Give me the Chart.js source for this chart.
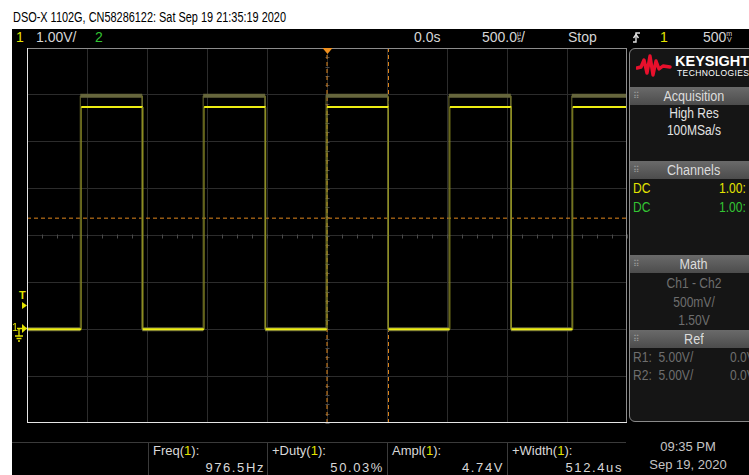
<!DOCTYPE html>
<html>
<head>
<meta charset="utf-8">
<script src="https://cdn.jsdelivr.net/npm/chart.js@4.4.1/dist/chart.umd.min.js"></script>
<style>
  body { margin:0; width:749px; height:475px; overflow:hidden; position:relative; background:#fff;
         font-family:'Liberation Sans',Arial,sans-serif; }
  .t { position:absolute; white-space:nowrap; line-height:1; }
  .nar { transform:scaleX(0.86); transform-origin:left top; }
  #scope { position:absolute; left:12px; top:29px; width:737px; height:446px; background:#000; }
  #grid { position:absolute; left:26px; top:47px; }
  .bar { color:#d6d6d6; font-size:14px; }
  .y { color:#e4e400; }
  .g { color:#33c433; }
  .stack { display:inline-block; font-size:7px; line-height:6px; vertical-align:top; margin-top:1px; text-align:center; }
  #panel { position:absolute; left:629px; top:48px; width:128px; height:372px; border:1px solid #8a8a8a;
           border-radius:6px; background:#151515; overflow:hidden; }
  .hdr { position:absolute; left:0; width:128px; height:18px; background:linear-gradient(#6a6a6a,#4c4c4c);
         color:#dcdcdc; font-size:14px; line-height:18px; text-align:center; }
  .hdr .lbl { display:inline-block; transform:scaleX(0.9); }
  .hdr .dots { position:absolute; left:3px; top:0; font-size:9px; color:#9a9a9a; }
  .pl { position:absolute; left:0; width:128px; text-align:center; font-size:14px; line-height:1; color:#e2e2e2;
        transform:scaleX(0.86); transform-origin:center top; white-space:nowrap; }
  .pt { font-size:14px; }
  .dim { color:#6e6e6e; }
  .meas { color:#d8d8d8; font-size:13px; }
  .val { color:#d8d8d8; font-size:13px; letter-spacing:1.6px; text-align:right; }
  .sep { position:absolute; background:#3a3a3a; }
</style>
</head>
<body>
<div class="t" style="left:13px;top:10px;font-size:14px;color:#000;transform:scaleX(0.78);transform-origin:left top;">DSO-X 1102G, CN58286122: Sat Sep 19 21:35:19 2020</div>
<div id="scope"></div>

<!-- status line -->
<div class="t bar y" style="left:16px;top:30px;">1</div>
<div class="t bar" style="left:36px;top:30px;">1.00V/</div>
<div class="t bar g" style="left:95px;top:30px;">2</div>
<div class="t bar" style="left:414px;top:30px;">0.0s</div>
<div class="t bar" style="left:482px;top:30px;">500.0<span class="stack">µ<br>s</span>/</div>
<div class="t bar" style="left:568px;top:30px;">Stop</div>
<svg style="position:absolute;left:632px;top:31px;" width="10" height="13">
  <path d="M1 11 H4 V2 H8" stroke="#e0e0e0" stroke-width="1.4" fill="none"/>
  <path d="M1.5 7 L4 3.5 L6.5 7" stroke="#e0e0e0" stroke-width="1.4" fill="none"/>
</svg>
<div class="t bar y" style="left:660px;top:30px;">1</div>
<div class="t bar" style="left:703px;top:30px;">500<span class="stack">m<br>V</span></div>

<canvas id="grid" width="602" height="377"></canvas>

<!-- channel / trigger markers left of the graticule -->
<div class="t y" style="left:19px;top:290px;font-size:11px;font-weight:bold;">T</div>
<svg style="position:absolute;left:12px;top:300px;" width="16" height="44">
  <path d="M10 2 L15 5.5 L10 9 Z" fill="#e4e400"/>
  <path d="M10 24 L15 28.5 L10 33 Z" fill="#e4e400"/>
  <path d="M5 28.5 H15" stroke="#e4e400" stroke-width="1.5"/>
  <path d="M7 29 V36 M3 36 H11 M4.5 38.5 H9.5 M6 41 H8" stroke="#e4e400" stroke-width="1.3"/>
</svg>
<div class="t y" style="left:12px;top:322px;font-size:11px;">1</div>

<!-- side panel -->
<div id="panel">
  <svg style="position:absolute;left:6px;top:5px;" width="36" height="24">
    <polyline points="1,14 5,13 8,6 11,19 14,2 17,21 20,7 23,15 27,12 34,13" stroke="#e8102c" stroke-width="3.4"
              fill="none" stroke-linejoin="round" stroke-linecap="round"/>
  </svg>
  <div class="t" style="left:45px;top:5px;font-weight:bold;font-size:14.5px;color:#fff;">KEYSIGHT</div>
  <div class="t" style="left:47px;top:20px;font-size:8.5px;color:#fff;letter-spacing:0.4px;">TECHNOLOGIES</div>

  <div class="hdr" style="top:38px;"><span class="dots">⠿</span><span class="lbl">Acquisition</span></div>
  <div class="pl" style="top:57px;">High Res</div>
  <div class="pl" style="top:74px;">100MSa/s</div>

  <div class="hdr" style="top:112px;"><span class="dots">⠿</span><span class="lbl">Channels</span></div>
  <div class="t pt nar y" style="left:3px;top:132px;">DC</div>
  <div class="t pt nar y" style="left:89px;top:132px;">1.00:</div>
  <div class="t pt nar g" style="left:3px;top:151px;">DC</div>
  <div class="t pt nar g" style="left:89px;top:151px;">1.00:</div>

  <div class="hdr" style="top:206px;"><span class="dots">⠿</span><span class="lbl">Math</span></div>
  <div class="pl dim" style="top:227px;">Ch1 - Ch2</div>
  <div class="pl dim" style="top:246px;">500mV/</div>
  <div class="pl dim" style="top:264px;">1.50V</div>

  <div class="hdr" style="top:281px;"><span class="dots">⠿</span><span class="lbl">Ref</span></div>
  <div class="t pt nar dim" style="left:3px;top:301px;">R1:&nbsp; 5.00V/</div>
  <div class="t pt nar dim" style="left:100px;top:301px;">0.0V</div>
  <div class="t pt nar dim" style="left:3px;top:319px;">R2:&nbsp; 5.00V/</div>
  <div class="t pt nar dim" style="left:100px;top:319px;">0.0V</div>
</div>

<!-- measurement bar -->
<div class="sep" style="left:12px;top:442px;width:614px;height:1px;"></div>
<div class="sep" style="left:148px;top:442px;width:1px;height:33px;"></div>
<div class="sep" style="left:267px;top:442px;width:1px;height:33px;"></div>
<div class="sep" style="left:387px;top:442px;width:1px;height:33px;"></div>
<div class="sep" style="left:507px;top:442px;width:1px;height:33px;"></div>

<div class="t meas" style="left:153px;top:444px;">Freq(<span class="y">1</span>):</div>
<div class="t val" style="left:149px;width:116px;top:461px;">976.5Hz</div>
<div class="t meas" style="left:272px;top:444px;">+Duty(<span class="y">1</span>):</div>
<div class="t val" style="left:268px;width:116px;top:461px;">50.03%</div>
<div class="t meas" style="left:392px;top:444px;">Ampl(<span class="y">1</span>):</div>
<div class="t val" style="left:388px;width:116px;top:461px;">4.74V</div>
<div class="t meas" style="left:512px;top:444px;">+Width(<span class="y">1</span>):</div>
<div class="t val" style="left:508px;width:115px;top:461px;">512.4us</div>

<div class="t" style="left:633px;width:110px;text-align:center;top:440px;font-size:13px;color:#c4c4c4;">09:35 PM</div>
<div class="t" style="left:633px;width:110px;text-align:center;top:458px;font-size:13px;color:#c4c4c4;">Sep 19, 2020</div>

<script>
// Channel 1 square wave, time in µs (500 µs/div), level in volts (1 V/div)
const ch1Time  = [-2500, -2048, -2048, -1535.6, -1535.6, -1024, -1024, -511.6, -511.6, 0, 0, 512.4, 512.4,
                  1024, 1024, 1536.4, 1536.4, 2048, 2048, 2500];
const ch1Volts = [0, 0, 4.74, 4.74, 0, 0, 4.74, 4.74, 0, 0, 4.74, 4.74, 0,
                  0, 4.74, 4.74, 0, 0, 4.74, 4.74];

// dim high-res envelope sitting just above the high level
const envTime  = [-2500, -2056, -2056, -1540, -1540, -1032, -1032, -516, -516, -8, -8, 508, 508,
                  1016, 1016, 1532, 1532, 2040, 2040, 2500];
const envVolts = [0, 0, 4.98, 4.98, 0, 0, 4.98, 4.98, 0, 0, 4.98, 4.98, 0,
                  0, 4.98, 4.98, 0, 0, 4.98, 4.98];

// measurement markers: edge times and the 50% threshold
const markerTimes = [0, 512.4];
const thresholdVolts = 2.37;

// graticule
const timeRange = [-2500, 2500];
const voltRange = [-2, 6];
const timeStep = 500;
const voltStep = 1;

const pts = (xs, ys) => xs.map((x, i) => ({ x: x, y: ys[i] }));
const isEdge = ctx => ctx.p0.parsed.x === ctx.p1.parsed.x;

const datasets = [
  {
    data: pts(ch1Time, ch1Volts),
    borderColor: '#eeee12',
    borderWidth: 2,
    segment: {
      borderColor: ctx => isEdge(ctx) ? '#8e8e22' : undefined,
      borderWidth: ctx => isEdge(ctx) ? 1 : undefined
    }
  },
  {
    data: pts(envTime, envVolts),
    borderColor: '#66663c',
    borderWidth: 4,
    segment: {
      borderColor: ctx => isEdge(ctx) ? '#6c6c2c' : undefined,
      borderWidth: ctx => isEdge(ctx) ? 1 : undefined
    }
  },
  {
    data: [{ x: timeRange[0], y: thresholdVolts }, { x: timeRange[1], y: thresholdVolts }],
    borderColor: '#e0861c', borderWidth: 1, borderDash: [4, 3]
  }
];
markerTimes.forEach(t => {
  datasets.push({
    data: [{ x: t, y: voltRange[0] }, { x: t, y: voltRange[1] }],
    borderColor: '#e0861c', borderWidth: 1, borderDash: [4, 3]
  });
});

// frame, centre-axis minor ticks and the trigger-position marker
const scopeChrome = {
  id: 'scopeChrome',
  beforeDatasetsDraw(chart) {
    const { ctx, scales: { x, y } } = chart;
    ctx.save();
    ctx.strokeStyle = '#4a4a4a';
    ctx.lineWidth = 1;
    const cx = Math.round(x.getPixelForValue(0)) + 0.5;
    const cy = Math.round(y.getPixelForValue(2)) + 0.5;
    ctx.beginPath();
    for (let t = timeRange[0]; t <= timeRange[1]; t += timeStep / 4) {
      const px = Math.round(x.getPixelForValue(t)) + 0.5;
      ctx.moveTo(px, cy - 2); ctx.lineTo(px, cy + 2);
    }
    for (let v = voltRange[0]; v <= voltRange[1]; v += voltStep / 5) {
      const py = Math.round(y.getPixelForValue(v)) + 0.5;
      ctx.moveTo(cx - 2, py); ctx.lineTo(cx + 2, py);
    }
    ctx.stroke();
    ctx.restore();
  },
  afterDatasetsDraw(chart) {
    const { ctx, chartArea: a, scales: { x } } = chart;
    ctx.save();
    ctx.lineWidth = 1;
    ctx.strokeStyle = '#8c8c8c';
    ctx.beginPath();
    ctx.moveTo(a.left, a.top + 0.5); ctx.lineTo(a.right, a.top + 0.5);
    ctx.moveTo(a.right - 0.5, a.top); ctx.lineTo(a.right - 0.5, a.bottom);
    ctx.stroke();
    ctx.strokeStyle = '#e6e6e6';
    ctx.beginPath();
    ctx.moveTo(a.left + 0.5, a.top); ctx.lineTo(a.left + 0.5, a.bottom);
    ctx.moveTo(a.left, a.bottom - 0.5); ctx.lineTo(a.right, a.bottom - 0.5);
    ctx.stroke();
    const tx = x.getPixelForValue(0) + 0.5;
    ctx.fillStyle = '#f0901e';
    ctx.beginPath();
    ctx.moveTo(tx - 5, a.top); ctx.lineTo(tx + 5, a.top); ctx.lineTo(tx, a.top + 6);
    ctx.closePath();
    ctx.fill();
    ctx.restore();
  }
};

const gridColor = (ctx, range) => {
  const v = ctx.tick && ctx.tick.value;
  return (v === range[0] || v === range[1]) ? 'rgba(0,0,0,0)' : '#2c2c2c';
};

new Chart(document.getElementById('grid'), {
  type: 'line',
  data: { datasets: datasets },
  options: {
    responsive: false,
    animation: false,
    events: [],
    layout: { padding: 1 },
    elements: { point: { radius: 0 }, line: { tension: 0 } },
    plugins: { legend: { display: false }, tooltip: { enabled: false } },
    scales: {
      x: {
        type: 'linear', min: timeRange[0], max: timeRange[1],
        ticks: { display: false, stepSize: timeStep },
        grid: { color: c => gridColor(c, timeRange), drawTicks: false },
        border: { display: false }
      },
      y: {
        type: 'linear', min: voltRange[0], max: voltRange[1],
        ticks: { display: false, stepSize: voltStep },
        grid: { color: c => gridColor(c, voltRange), drawTicks: false },
        border: { display: false }
      }
    }
  },
  plugins: [scopeChrome]
});
</script>
</body>
</html>
